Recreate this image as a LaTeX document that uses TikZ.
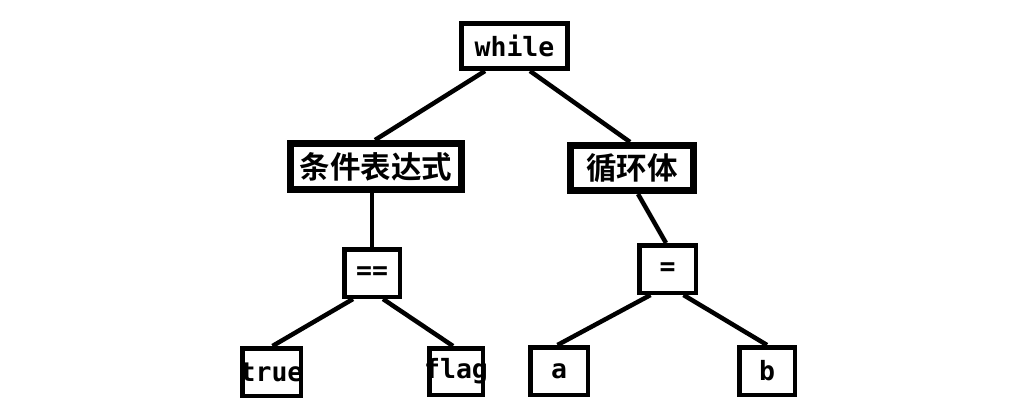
\documentclass[tikz,border=0pt]{standalone}
\usepackage{fontspec}
\newfontfamily\codefont{DejaVu Sans Mono}[BoldFont={DejaVu Sans Mono Bold}]
\newfontfamily\cjk{Noto Sans CJK SC}[BoldFont={Noto Sans CJK SC Bold}]
\begin{document}
\begin{tikzpicture}[x=1pt,y=-1pt,
  box/.style={draw=black,fill=white,line width=4.5pt,inner sep=0pt,anchor=center,
    font=\codefont\bfseries\fontsize{26.5}{27}\selectfont},
  topbox/.style={box,line width=5pt},
  cnbox/.style={box,line width=7pt,font=\cjk\bfseries\fontsize{30.5}{31}\selectfont},
  edge/.style={line width=4.5pt,black}]
\useasboundingbox (0,0) rectangle (1032,408);
\fill[white] (0,0) rectangle (1032,408);
\node[topbox,minimum width=106pt,minimum height=45pt] (while) at (514.5,46) {\makebox[0pt]{while}};
\node[cnbox,minimum width=171pt,minimum height=46pt] (cond) at (376,166.5) {\makebox[0pt]{条件表达式}};
\node[cnbox,minimum width=123pt,minimum height=45pt] (loop) at (632,168) {\makebox[0pt]{循环体}};
\node[box,minimum width=55.5pt,minimum height=47.5pt] (eq) at (372,273) {\makebox[0pt]{==}};
\node[box,minimum width=56.5pt,minimum height=47.5pt] (asg) at (667.5,269) {\makebox[0pt]{=}};
\node[box,minimum width=58.5pt,minimum height=47.5pt] (tr) at (271.5,372) {\makebox[0pt]{true}};
\node[box,minimum width=53.5pt,minimum height=46.5pt] (fl) at (456,371.5) {\makebox[0pt]{\raisebox{-2pt}{flag}}};
\node[box,minimum width=57.5pt,minimum height=47.5pt] (na) at (559,371) {\makebox[0pt]{a}};
\node[box,minimum width=55.5pt,minimum height=47.5pt] (nb) at (767,371) {\makebox[0pt]{b}};
\draw[edge] ([xshift=-29.5pt]while.south) -- ([xshift=-1pt]cond.north);
\draw[edge] ([xshift=15.5pt]while.south) -- ([xshift=-2pt]loop.north);
\draw[edge] ([xshift=-4pt]cond.south) -- (eq.north);
\draw[edge] ([xshift=6pt]loop.south) -- ([xshift=-1.5pt]asg.north);
\draw[edge] ([xshift=-19pt]eq.south) -- ([xshift=1pt]tr.north);
\draw[edge] ([xshift=11pt]eq.south) -- ([xshift=-3pt]fl.north);
\draw[edge] ([xshift=-17pt]asg.south) -- ([xshift=-1.5pt]na.north);
\draw[edge] ([xshift=16pt]asg.south) -- (nb.north);
\end{tikzpicture}
\end{document}
